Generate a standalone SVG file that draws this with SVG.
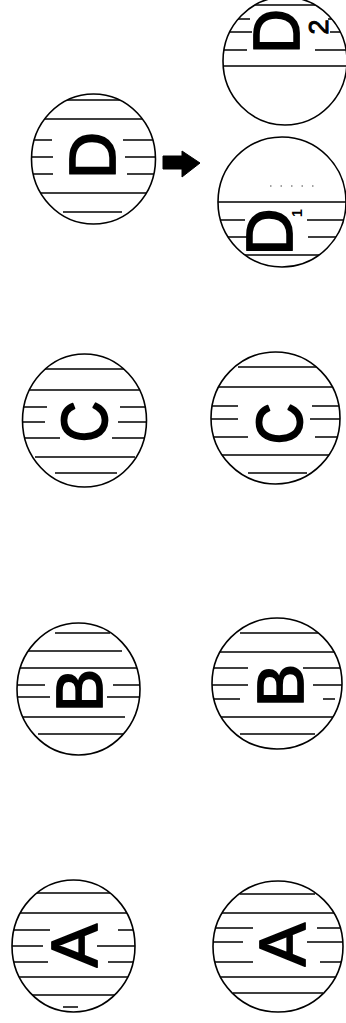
<svg xmlns="http://www.w3.org/2000/svg" width="346" height="1023" viewBox="0 0 346 1023">
<style>
.ring{fill:none;stroke:#000;stroke-width:1.6}
.hl{fill:none;stroke:#000;stroke-width:1.5}
.lt{font-family:"Liberation Sans",Arial,sans-serif;font-size:65px;fill:#000;stroke:#000;stroke-width:1.8;stroke-linejoin:round;text-anchor:middle}
.sub{font-family:"Liberation Sans",Arial,sans-serif;fill:#000;text-anchor:middle}
.arrow{fill:#000;stroke:#000;stroke-width:1}
</style>
<defs>
<clipPath id="cD"><ellipse cx="93.5" cy="159" rx="62" ry="65"/></clipPath>
<clipPath id="cD2"><ellipse cx="285" cy="61" rx="62" ry="64"/></clipPath>
<clipPath id="cD1"><ellipse cx="282" cy="202" rx="64" ry="65"/></clipPath>
<clipPath id="cCL"><ellipse cx="84.5" cy="420.5" rx="62" ry="66.5"/></clipPath>
<clipPath id="cCR"><ellipse cx="275.5" cy="418" rx="64.5" ry="66"/></clipPath>
<clipPath id="cBL"><ellipse cx="78.5" cy="689" rx="61.5" ry="66"/></clipPath>
<clipPath id="cBR"><ellipse cx="277" cy="683.5" rx="65" ry="65.5"/></clipPath>
<clipPath id="cAL"><ellipse cx="73.5" cy="946" rx="61.5" ry="66"/></clipPath>
<clipPath id="cAR"><ellipse cx="278" cy="946.5" rx="65" ry="65.5"/></clipPath>
</defs>
<rect width="346" height="1023" fill="#fff"/>

<g id="node-D">
<path class="hl" clip-path="url(#cD)" d="M60 100H124M38 119H146M31 140H52M123 140H156M31 157H53M125 157H156M31 174H53M127 174H156M35 193H150M63 212H122"/>
<ellipse class="ring" cx="93.5" cy="159" rx="62" ry="65"/>
<text class="lt" transform="translate(91.5,155.5) rotate(-90)" x="0" y="23.3">D</text>
</g>

<g id="node-D2">
<path class="hl" clip-path="url(#cD2)" d="M248 5H333M222 19H250M328 19H347M222 32H252M330 32H347M222 50H247M315 50H347M222 66H347"/>
<ellipse class="ring" cx="285" cy="61" rx="62" ry="64"/>
<text class="lt" transform="translate(276,31.5) rotate(-90) scale(0.95,1)" x="0" y="23.3">D</text>
<text class="sub" transform="translate(318,27) rotate(-90)" x="0" y="9.5" font-size="27" stroke="#000" stroke-width="1">2</text>
</g>

<g id="node-D1">
<path class="hl" clip-path="url(#cD1)" d="M216 202H347M218 220H245M307 220H347M220 237H247M308 237H347M228 255H340"/>
<line x1="270" y1="186" x2="322" y2="186" stroke="#444" stroke-width="1" stroke-dasharray="1.5 9"/>
<ellipse class="ring" cx="282" cy="202" rx="64" ry="65"/>
<text class="lt" transform="translate(269,232) rotate(-90)" x="0" y="23.3">D</text>
<text class="sub" transform="translate(297,213) rotate(-90)" x="0" y="5" font-size="14" font-weight="bold">1</text>
</g>

<g id="node-C-left">
<path class="hl" clip-path="url(#cCL)" d="M43 369H133M26 390H140M20 407H47M120 407H148M20 422H45M118 422H148M22 438H60M112 438H148M35 457H135M55 473H117"/>
<ellipse class="ring" cx="84.5" cy="420.5" rx="62" ry="66.5"/>
<text class="lt" transform="translate(84,421.5) rotate(-90) scale(0.88,1)" x="0" y="23.3">C</text>
</g>

<g id="node-C-right">
<path class="hl" clip-path="url(#cCR)" d="M238 367H318M216 387H335M210 406H238M312 406H341M210 419H238M310 419H341M210 437H248M315 437H341M221 455H335M248 473H307"/>
<ellipse class="ring" cx="275.5" cy="418" rx="64.5" ry="66"/>
<text class="lt" transform="translate(279,423.5) rotate(-90) scale(0.88,1)" x="0" y="23.3">C</text>
</g>

<g id="node-B-left">
<path class="hl" clip-path="url(#cBL)" d="M55 633H110M28 651H122M15 668H140M14 685H45M113 685H141M15 697H50M107 697H141M20 717H125M38 734H125"/>
<ellipse class="ring" cx="78.5" cy="689" rx="61.5" ry="66"/>
<text class="lt" transform="translate(79,690.5) rotate(-90)" x="0" y="23.3">B</text>
</g>

<g id="node-B-right">
<path class="hl" clip-path="url(#cBR)" d="M240 633H320M220 652H335M210 668H248M303 668H343M210 685H248M313 685H343M212 699H240M323 699H335M220 717H335M240 734H315"/>
<ellipse class="ring" cx="277" cy="683.5" rx="65" ry="65.5"/>
<text class="lt" transform="translate(280,685.5) rotate(-90)" x="0" y="23.3">B</text>
</g>

<g id="node-A-left">
<path class="hl" clip-path="url(#cAL)" d="M37 893H110M18 913H130M10 930H50M118 930H136M10 946H43M97 946H136M10 962H48M108 962H136M15 977H132M30 995H119M63 1007H78"/>
<ellipse class="ring" cx="73.5" cy="946" rx="61.5" ry="66"/>
<text class="lt" transform="translate(74,945.5) rotate(-90)" x="0" y="23.3">A</text>
</g>

<g id="node-A-right">
<path class="hl" clip-path="url(#cAR)" d="M240 894H315M220 913H335M212 928H253M317 928H345M211 942H243M307 942H345M212 962H253M320 962H345M218 977H339M233 993H323"/>
<ellipse class="ring" cx="278" cy="946.5" rx="65" ry="65.5"/>
<text class="lt" transform="translate(282,944.5) rotate(-90)" x="0" y="23.3">A</text>
</g>

<g id="connectors">
<polygon class="arrow" points="163,156 182,156 182,151 200,163 182,177 182,169 163,169"/>
</g>
</svg>
